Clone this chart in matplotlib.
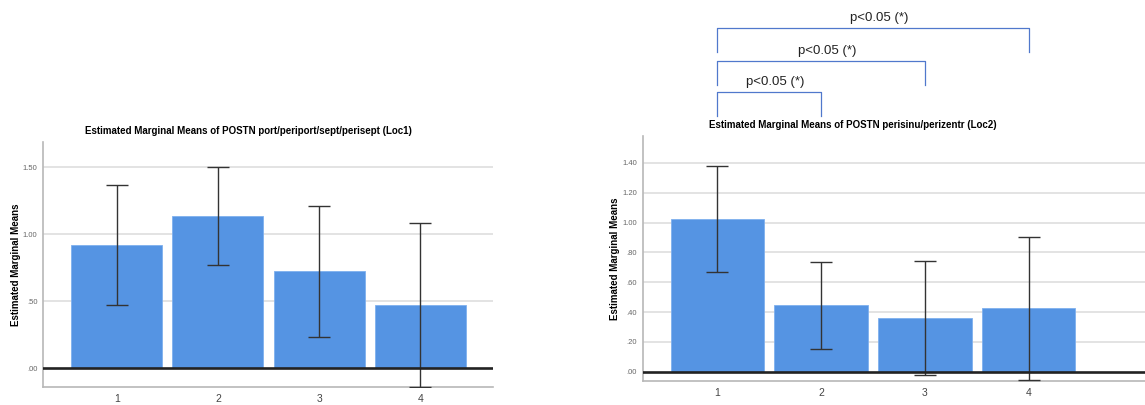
import matplotlib
matplotlib.use("Agg")
import matplotlib.pyplot as plt
import matplotlib.transforms as mtransforms
import numpy as np

plt.rcParams['font.family'] = ['Liberation Sans', 'DejaVu Sans']

# Estimated marginal means with 95% CI (read from the SPSS output)
groups = ["1", "2", "3", "4"]
loc1_means = [0.92, 1.135, 0.725, 0.47]
loc1_upper = [1.37, 1.505, 1.215, 1.085]
loc1_lower = [0.475, 0.77, 0.235, -0.14]

loc2_means = [1.025, 0.445, 0.36, 0.425]
loc2_upper = [1.38, 0.735, 0.745, 0.905]
loc2_lower = [0.67, 0.155, -0.025, -0.055]

loc1_ticks = [0.0, 0.5, 1.0, 1.5]
loc2_ticks = [0.0, 0.2, 0.4, 0.6, 0.8, 1.0, 1.2, 1.4]

# pairwise comparisons shown above the Loc2 chart
pairs = [(1, 2), (1, 3), (1, 4)]
pair_labels = ["p<0.05 (*)", "p<0.05 (*)", "p<0.05 (*)"]

bar_color = '#5594e3'
grid_color = '#dedede'
spine_color = '#b8b8b8'


def spss_fmt(v):
    s = "%.2f" % v
    if s.startswith("0"):
        s = s[1:]
    return s


def draw_panel(ax, means, lower, upper, ticks, ylim, xlim, title, title_x):
    x = np.arange(1, len(groups) + 1)
    m = np.array(means)
    yerr = [m - np.array(lower), np.array(upper) - m]
    ax.bar(x, m, width=0.9, color=bar_color, edgecolor='#7fb0ee', linewidth=0.6, zorder=2)
    ax.errorbar(x, m, yerr=yerr, fmt='none', ecolor='#333333', elinewidth=1.0,
                capsize=8, capthick=1.0, zorder=3)
    ax.axhline(0, color='#222222', lw=1.9, zorder=4)
    for t in ticks[1:]:
        ax.axhline(t, color=grid_color, lw=1.2, zorder=0)
    ax.set_xlim(*xlim)
    ax.set_ylim(*ylim)
    ax.set_xticks(x)
    ax.set_xticklabels(groups, fontsize=7.5, color='#444444')
    ax.set_yticks(ticks)
    ax.set_yticklabels([spss_fmt(t) for t in ticks], fontsize=5.5, color='#666666')
    ax.tick_params(length=0, pad=4)
    ax.tick_params(axis='x', pad=5)
    for s in ['top', 'right']:
        ax.spines[s].set_visible(False)
    for s in ['left', 'bottom']:
        ax.spines[s].set_color(spine_color)
        ax.spines[s].set_linewidth(1.2)
    ax.set_ylabel("Estimated Marginal Means", fontsize=7, fontweight='bold', labelpad=1.5)
    ax.set_title(title, fontsize=7, fontweight='bold', pad=6, x=title_x)


fig = plt.figure(figsize=(11.45, 4.05), dpi=100)
ax1 = fig.add_axes([0.0376, 0.0444, 0.393, 0.605])
ax2 = fig.add_axes([0.5613, 0.06, 0.4387, 0.604])

draw_panel(ax1, loc1_means, loc1_lower, loc1_upper, loc1_ticks, (-0.14, 1.69), (0.27, 4.72),
           "Estimated Marginal Means of POSTN port/periport/sept/perisept (Loc1)", 0.456)
draw_panel(ax2, loc2_means, loc2_lower, loc2_upper, loc2_ticks, (-0.06, 1.58), (0.28, 5.12),
           "Estimated Marginal Means of POSTN perisinu/perizentr (Loc2)", 0.419)

# significance brackets: x in data units of ax2, y in figure fraction
trans = mtransforms.blended_transform_factory(ax2.transData, fig.transFigure)
bracket_top = [0.773, 0.849, 0.931]
leg_len = 0.059
for (a, b), lab, yt in zip(pairs, pair_labels, bracket_top):
    ax2.plot([a, a, b, b], [yt - leg_len, yt, yt, yt - leg_len], transform=trans,
             color='#5078cc', lw=0.9, clip_on=False, solid_joinstyle='round')
    ax2.text((a + b) / 2 + 0.06, yt + 0.01, lab, transform=trans, ha='center', va='bottom',
             fontsize=9.5, color='#222222')

fig.savefig("out.png", dpi=100)
